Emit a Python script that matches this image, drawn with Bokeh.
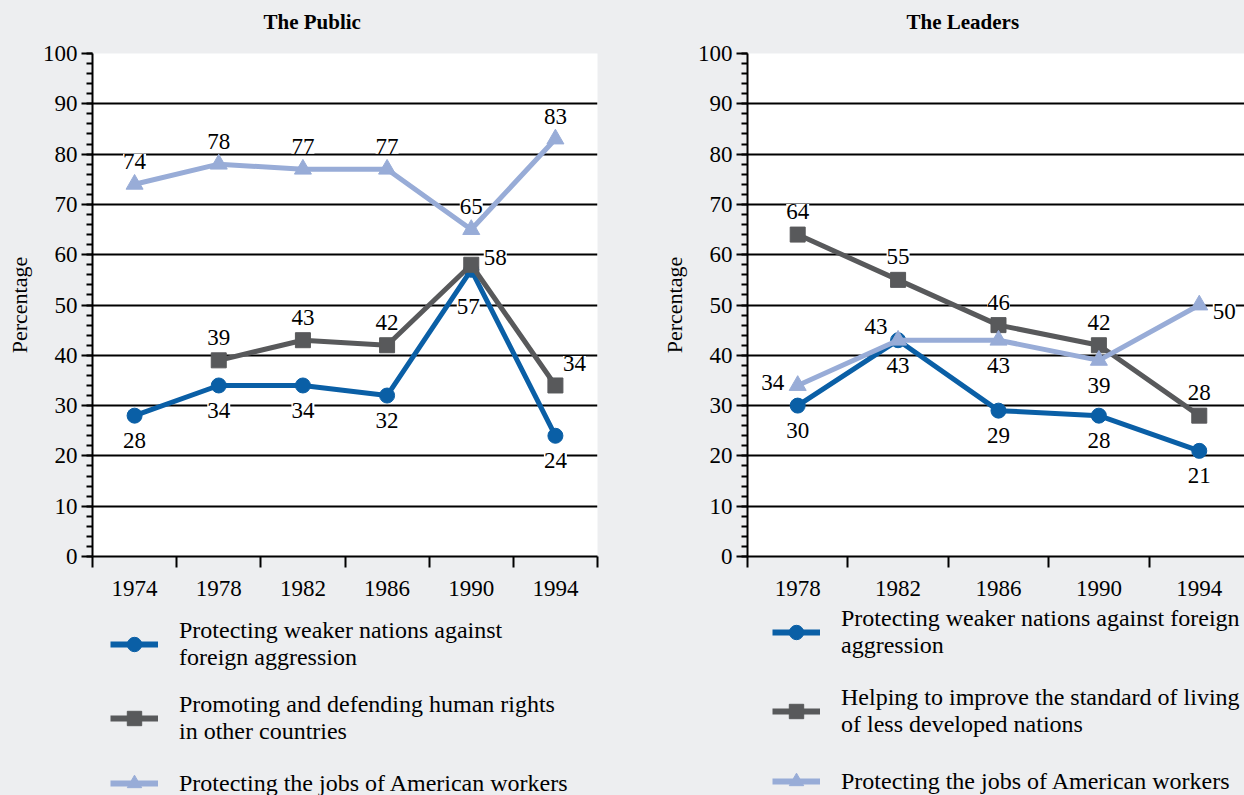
from bokeh.plotting import figure
from bokeh.models import (ColumnDataSource, Range1d, FixedTicker, LabelSet, Legend, LegendItem)
from bokeh.layouts import row, column
from bokeh.embed import file_html
from bokeh.resources import INLINE

# ---------------- data ----------------
public_years = ["1974", "1978", "1982", "1986", "1990", "1994"]
public_weaker = [28, 34, 34, 32, 57, 24]
public_rights = [None, 39, 43, 42, 58, 34]
public_jobs = [74, 78, 77, 77, 65, 83]

leader_years = ["1978", "1982", "1986", "1990", "1994"]
leader_weaker = [30, 43, 29, 28, 21]
leader_living = [64, 55, 46, 42, 28]
leader_jobs = [34, 43, 43, 39, 50]

public_labels = [
    "Protecting weaker nations against\nforeign aggression",
    "Promoting and defending human rights\nin other countries",
    "Protecting the jobs of American workers",
]
leader_labels = [
    "Protecting weaker nations against foreign\naggression",
    "Helping to improve the standard of living\nof less developed nations",
    "Protecting the jobs of American workers",
]

# label placement codes (style, not data)
public_weaker_pos = ["below", "below", "below", "below", "below_far", "below"]
public_rights_pos = [None, "above", "above", "above", "right_up", "above_right"]
public_jobs_pos = ["above"] * 6
leader_weaker_pos = ["below", "above_left", "below", "below", "below"]
leader_living_pos = ["above"] * 5
leader_jobs_pos = ["left", "below", "below", "below", "right_down"]

OFFS = {
    "above": (0, 23), "below": (0, -25), "below_far": (-3, -37),
    "right_up": (24, 7), "above_right": (19, 22), "left": (-25, 3),
    "above_left": (-22, 14), "right_down": (25, -6),
}

BLUE = "#0A5FA6"
GRAY = "#58595B"
LIGHT = "#98ACD7"
BG = "#EDEEF0"
FONT = "Liberation Serif"
STYLES = [(BLUE, "circle", 15), (GRAY, "square", 15), (LIGHT, "triangle", 17)]


def make_title(text, width, frame_left, frame_right, offset):
    t = figure(width=width, height=40, x_range=Range1d(0, 1), y_range=Range1d(0, 1),
               output_backend="svg", toolbar_location=None,
               x_axis_location=None, y_axis_location=None,
               min_border_left=frame_left, min_border_right=frame_right,
               min_border_top=35, min_border_bottom=0)
    t.background_fill_color = BG
    t.border_fill_color = BG
    t.outline_line_color = None
    t.grid.grid_line_color = None
    t.title.text = text
    t.title.text_font = FONT
    t.title.text_font_size = "21px"
    t.title.text_font_style = "bold"
    t.title.text_color = "black"
    t.title.align = "left"
    t.title.offset = offset
    t.title.standoff = 4
    return t


def make_panel(years, series, width, frame_left, frame_right, x_end):
    p = figure(width=width, height=560, x_range=Range1d(0, x_end), y_range=Range1d(0, 100),
               output_backend="svg", toolbar_location=None,
               min_border_left=frame_left, min_border_right=frame_right,
               min_border_top=13, min_border_bottom=44)
    p.background_fill_color = "white"
    p.border_fill_color = BG
    p.outline_line_color = None

    n = len(years)
    centers = [i + 0.5 for i in range(n)]
    xaxis = p.xaxis[0]
    xaxis.ticker = FixedTicker(ticks=centers, minor_ticks=list(range(n + 1)))
    xaxis.major_label_overrides = {c: y for c, y in zip(centers, years)}
    xaxis.major_tick_out = 0
    xaxis.major_tick_in = 0
    xaxis.minor_tick_out = 11
    xaxis.minor_tick_in = 0
    xaxis.minor_tick_line_width = 2
    xaxis.minor_tick_line_color = "black"
    xaxis.axis_line_width = 2
    xaxis.axis_line_color = "black"
    xaxis.major_label_standoff = 13
    xaxis.major_label_text_font = FONT
    xaxis.major_label_text_font_size = "23px"
    xaxis.major_label_text_color = "black"

    yaxis = p.yaxis[0]
    yaxis.ticker = FixedTicker(ticks=list(range(0, 101, 10)), minor_ticks=list(range(0, 101, 2)))
    yaxis.major_tick_out = 11
    yaxis.major_tick_in = 0
    yaxis.minor_tick_out = 6
    yaxis.minor_tick_in = 0
    yaxis.major_tick_line_width = 2
    yaxis.minor_tick_line_width = 2
    yaxis.major_tick_line_color = "black"
    yaxis.minor_tick_line_color = "black"
    yaxis.axis_line_width = 2
    yaxis.axis_line_color = "black"
    yaxis.major_label_standoff = 4
    yaxis.major_label_text_font = FONT
    yaxis.major_label_text_font_size = "23px"
    yaxis.major_label_text_color = "black"
    yaxis.axis_label = "Percentage"
    yaxis.axis_label_text_font = FONT
    yaxis.axis_label_text_font_size = "22px"
    yaxis.axis_label_text_font_style = "normal"
    yaxis.axis_label_text_color = "black"
    yaxis.axis_label_standoff = 8

    p.xgrid.grid_line_color = None
    p.ygrid.ticker = FixedTicker(ticks=list(range(0, 101, 10)))
    p.ygrid.grid_line_color = "black"
    p.ygrid.grid_line_width = 2

    for (vals, pos), (color, marker, msize) in zip(series, STYLES):
        xs = [c for c, v in zip(centers, vals) if v is not None]
        ys = [v for v in vals if v is not None]
        ps = [q for q, v in zip(pos, vals) if v is not None]
        src = ColumnDataSource(dict(
            x=xs, y=ys, t=[str(v) for v in ys],
            xo=[OFFS[q][0] for q in ps], yo=[OFFS[q][1] for q in ps]))
        p.line("x", "y", source=src, line_color=color, line_width=5)
        p.scatter("x", "y", source=src, marker=marker, size=msize,
                  fill_color=color, line_color=color)
        ls = LabelSet(x="x", y="y", text="t", x_offset="xo", y_offset="yo", source=src,
                      text_font=FONT, text_font_size="23px", text_color="black",
                      text_align="center", text_baseline="middle",
                      background_fill_color="white", border_line_color=None)
        p.add_layout(ls)
    return p


def make_legend(labels, width, left, top, spacing):
    # legend-only strip; its sample renderers sit outside the visible range
    lf = figure(width=width, height=195, x_range=Range1d(0, 1), y_range=Range1d(0, 1),
                output_backend="svg", toolbar_location=None,
                x_axis_location=None, y_axis_location=None,
                min_border_left=left - top, min_border_top=0, min_border_right=0,
                min_border_bottom=0)
    lf.background_fill_color = BG
    lf.border_fill_color = BG
    lf.outline_line_color = None
    lf.grid.grid_line_color = None
    items = []
    for lab, (color, marker, msize) in zip(labels, STYLES):
        lr = lf.line([-5, -4], [-5, -4], line_color=color, line_width=6)
        sr = lf.scatter([-5], [-5], marker=marker, size=msize, fill_color=color, line_color=color)
        items.append(LegendItem(label=lab, renderers=[lr, sr]))
    legend = Legend(items=items, location="top_left", orientation="vertical",
                    background_fill_alpha=0, border_line_color=None,
                    label_text_font=FONT, label_text_font_size="24px",
                    label_text_color="black", label_text_line_height=1.08,
                    glyph_width=48, glyph_height=36, label_standoff=21,
                    spacing=spacing, padding=0, margin=top)
    lf.add_layout(legend, "center")
    return lf


t1 = make_title("The Public", 658, 92, 61, 171)
t2 = make_title("The Leaders", 586, 86, 0, 162)

p1 = make_panel(public_years,
                [(public_weaker, public_weaker_pos), (public_rights, public_rights_pos),
                 (public_jobs, public_jobs_pos)],
                658, 92, 61, 6)
p2 = make_panel(leader_years,
                [(leader_weaker, leader_weaker_pos), (leader_living, leader_living_pos),
                 (leader_jobs, leader_jobs_pos)],
                586, 86, 0, 500 / 101.0)

l1 = make_legend(public_labels, 658, 110, 17, 20)
l2 = make_legend(leader_labels, 586, 114, 5, 25)

layout = column(row(t1, t2, spacing=0), row(p1, p2, spacing=0), row(l1, l2, spacing=0),
                spacing=0)
layout.styles = {"background-color": BG}
open("out.html", "w").write(file_html(layout, INLINE))
